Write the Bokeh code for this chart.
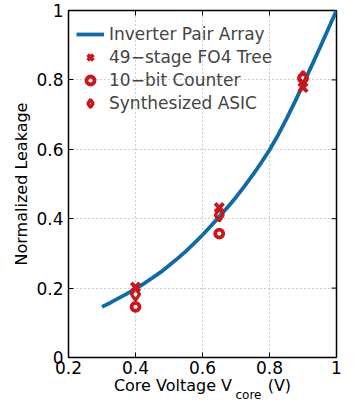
from bokeh.plotting import figure
from bokeh.models import Title, Legend, LegendItem, Range1d, FixedTicker, CustomJSTickFormatter
from bokeh.embed import file_html
from bokeh.resources import INLINE

# Data
curve_x = [0.300, 0.325, 0.350, 0.375, 0.400, 0.425, 0.450, 0.475, 0.500, 0.525,
           0.550, 0.575, 0.600, 0.625, 0.650, 0.675, 0.700, 0.725, 0.750, 0.775,
           0.800, 0.825, 0.850, 0.875, 0.900, 0.925, 0.950, 0.975, 1.000]
curve_y = [0.146, 0.158, 0.171, 0.184, 0.198, 0.213, 0.229, 0.246, 0.265, 0.285,
           0.306, 0.329, 0.353, 0.379, 0.406, 0.433, 0.462, 0.493, 0.526, 0.561,
           0.598, 0.640, 0.686, 0.735, 0.787, 0.839, 0.892, 0.946, 1.000]

fo4_x = [0.40, 0.65, 0.90]
fo4_y = [0.203, 0.432, 0.778]
counter_x = [0.40, 0.65, 0.90]
counter_y = [0.146, 0.357, 0.805]
asic_x = [0.40, 0.65, 0.90]
asic_y = [0.182, 0.410, 0.807]

x_ticks = [0.2, 0.4, 0.6, 0.8, 1.0]
y_ticks = [0.0, 0.2, 0.4, 0.6, 0.8, 1.0]
x_edge = [1.0] * len(y_ticks)
y_edge = [1.0] * len(x_ticks)

BLUE = "#106aa4"
RED = "#c8171d"
FONT = "DejaVu Sans"

p = figure(width=359, height=402, output_backend="svg", toolbar_location=None,
           x_range=Range1d(0.2, 1.0), y_range=Range1d(0.0, 1.0),
           min_border_left=68, min_border_right=23, min_border_top=10, min_border_bottom=45)
p.outline_line_color = "black"
p.outline_line_width = 1.5

fmt = CustomJSTickFormatter(code="return (tick === 0 || tick === 1) ? tick.toFixed(0) : tick.toFixed(1);")

for ax in (p.xaxis[0], p.yaxis[0]):
    ax.major_label_text_font = FONT
    ax.major_label_text_font_size = "17px"
    ax.major_label_text_color = "black"
    ax.major_tick_in = 5
    ax.major_tick_out = 0
    ax.minor_tick_line_color = None
    ax.axis_line_color = None
    ax.formatter = fmt
p.xaxis[0].ticker = FixedTicker(ticks=x_ticks)
p.yaxis[0].ticker = FixedTicker(ticks=y_ticks)
p.xaxis[0].major_label_standoff = 3
p.yaxis[0].major_label_standoff = 5
p.yaxis[0].axis_label = "Normalized Leakage"
p.yaxis[0].axis_label_text_font = FONT
p.yaxis[0].axis_label_text_font_size = "16px"
p.yaxis[0].axis_label_text_font_style = "normal"
p.yaxis[0].axis_label_text_color = "black"
p.yaxis[0].axis_label_standoff = 2

p.xgrid.ticker = FixedTicker(ticks=x_ticks)
p.ygrid.ticker = FixedTicker(ticks=y_ticks)
for g in (p.xgrid[0], p.ygrid[0]):
    g.grid_line_color = "#9a9a9a"
    g.grid_line_dash = "1 3"
    g.grid_line_width = 1

# inward ticks on top and right edges (half of each dash is clipped by the frame)
p.scatter(x_ticks, y_edge, marker="dash", angle=1.5708, size=10, line_color="black", line_width=1)
p.scatter(x_edge, y_ticks, marker="dash", size=10, line_color="black", line_width=1)

r_line = p.line(curve_x, curve_y, line_color=BLUE, line_width=3.8)
r_fo4 = p.scatter(fo4_x, fo4_y, marker="x", size=12, line_color=RED, line_width=3.8)
r_cnt = p.scatter(counter_x, counter_y, marker="circle", size=8, line_color=RED,
                  line_width=3.8, fill_color=None)
r_asic = p.scatter(asic_x, asic_y, marker="diamond", size=12, line_color=RED,
                   line_width=3.2, fill_color=None)

legend = Legend(items=[
    LegendItem(label="Inverter Pair Array", renderers=[r_line]),
    LegendItem(label="49\u2212stage FO4 Tree", renderers=[r_fo4]),
    LegendItem(label="10\u2212bit Counter", renderers=[r_cnt]),
    LegendItem(label="Synthesized ASIC", renderers=[r_asic]),
], location=(8, 244))
legend.border_line_color = None
legend.background_fill_alpha = 0
legend.label_text_font = FONT
legend.label_text_font_size = "17px"
legend.glyph_width = 28
legend.glyph_height = 20
legend.label_height = 20
legend.spacing = 3
legend.padding = 7
legend.margin = 0
legend.label_standoff = 5
p.add_layout(legend, "center")

# x-axis label with subscript, as titles in the bottom panel (tight rows)
NB = "\u00a0"
main_lbl = Title(text="Core Voltage V" + NB * 7 + "(V)", align="center", vertical_align="top",
                 standoff=-2, text_font=FONT, text_font_size="16px",
                 text_font_style="normal", text_color="black")
sub_lbl = Title(text="core", align="left", offset=167, vertical_align="top",
                standoff=-16, text_font=FONT, text_font_size="12px",
                text_font_style="normal", text_color="black")
p.add_layout(main_lbl, "below")
p.add_layout(sub_lbl, "below")

open("out.html", "w").write(file_html(p, INLINE))
